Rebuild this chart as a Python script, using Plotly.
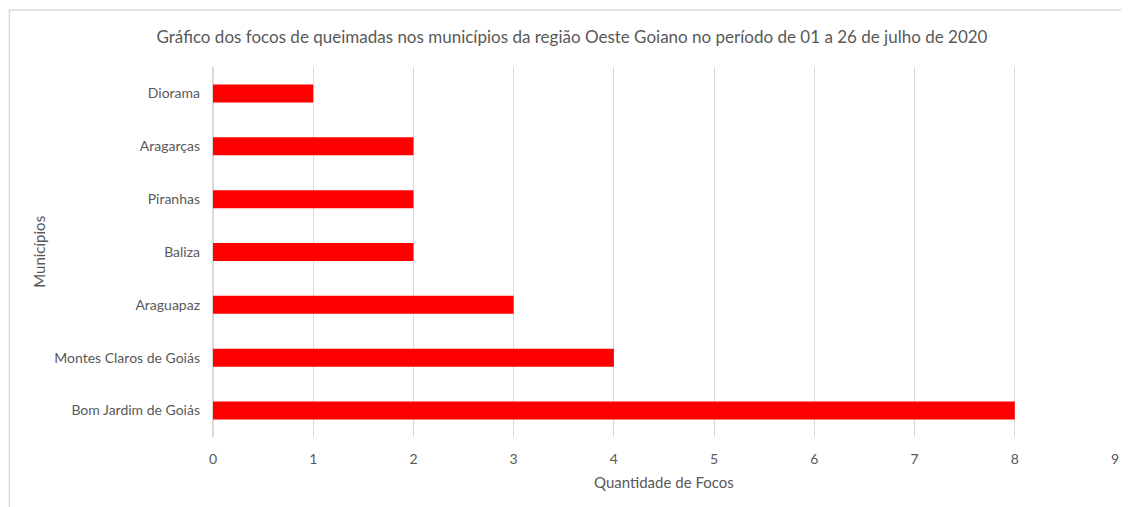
import plotly.graph_objects as go

municipios = ["Bom Jardim de Goiás", "Montes Claros de Goiás", "Araguapaz", "Baliza", "Piranhas", "Aragarças", "Diorama"]
focos = [8, 4, 3, 2, 2, 2, 1]
x_ticks = [0, 1, 2, 3, 4, 5, 6, 7, 8, 9]

FONT = "Lato"
GREY = "#595959"
W, H = 1121, 499
L, R, T, B = 205, 10, 59, 70
PW, PH = W - L - R, H - T - B

fig = go.Figure(go.Bar(
    x=focos, y=municipios, orientation="h",
    marker=dict(color="#ff0000", line=dict(width=0)),
    width=0.34,
))

fig.update_layout(
    width=W, height=H,
    margin=dict(l=L, r=R, t=T, b=B),
    paper_bgcolor="white", plot_bgcolor="white",
    font=dict(family=FONT, color=GREY, size=14),
    showlegend=False,
    title=dict(text="Gráfico dos focos de queimadas nos municípios da região Oeste Goiano no período de 01 a 26 de julho de 2020",
               x=564 / W, xanchor="center", y=1 - 29 / H, yanchor="middle",
               font=dict(size=17, color=GREY, family=FONT)),
    xaxis=dict(range=[0, 9], tickvals=x_ticks, showgrid=True, gridcolor="#d9d9d9", gridwidth=1,
               zeroline=True, zerolinecolor="#d9d9d9", showline=False, ticks="",
               ticklabelstandoff=12, tickfont=dict(size=14, color=GREY)),
    yaxis=dict(categoryorder="array", categoryarray=municipios, showgrid=False, zeroline=False,
               ticks="", ticklabelstandoff=12, tickfont=dict(size=14, color=GREY)),
    annotations=[
        dict(text="Quantidade de Focos", xref="paper", yref="paper", x=0.5, y=-45 / PH,
             xanchor="center", yanchor="middle", showarrow=False, font=dict(size=15, color=GREY)),
        dict(text="Municípios", xref="paper", yref="paper", x=-(L - 30) / PW, y=0.5,
             xanchor="center", yanchor="middle", textangle=-90, showarrow=False,
             font=dict(size=15, color=GREY)),
    ],
    shapes=[dict(type="rect", xref="paper", yref="paper",
                 x0=-(L - 0.5) / PW, x1=1.05, y0=-0.3, y1=1 + (T - 2) / PH,
                 line=dict(color="#d9d9d9", width=1.5), fillcolor="rgba(0,0,0,0)", layer="below")],
)

fig.write_html("out.html")
